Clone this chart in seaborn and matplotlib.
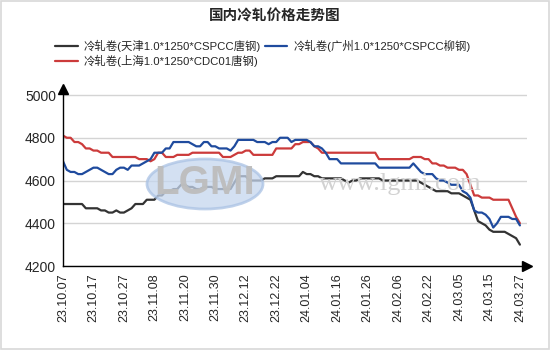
import numpy as np
import pandas as pd
import matplotlib
matplotlib.use("Agg")
import matplotlib.pyplot as plt
import seaborn as sns
from matplotlib.patches import Ellipse, Rectangle

# ---------------- data ----------------
title = "国内冷轧价格走势图"
series_names = [
    "冷轧卷(天津1.0*1250*CSPCC唐钢)",
    "冷轧卷(上海1.0*1250*CDC01唐钢)",
    "冷轧卷(广州1.0*1250*CSPCC柳钢)",
]
tick_labels = ["23.10.07", "23.10.17", "23.10.27", "23.11.08", "23.11.20", "23.11.30",
               "23.12.12", "23.12.22", "24.01.04", "24.01.16", "24.01.26", "24.02.06",
               "24.02.22", "24.03.05", "24.03.15", "24.03.27"]

tianjin = [4490, 4490, 4490, 4490, 4490, 4490, 4470, 4470, 4470, 4470,
           4460, 4460, 4450, 4450, 4460, 4450, 4450, 4460, 4470, 4490,
           4490, 4490, 4510, 4510, 4510, 4530, 4530, 4550, 4550, 4560,
           4560, 4580, 4580, 4570, 4570, 4560, 4560, 4570, 4570, 4570,
           4560, 4560, 4560, 4560, 4560, 4590, 4620, 4620, 4620, 4600,
           4600, 4600, 4600, 4610, 4610, 4610, 4620, 4620, 4620, 4620,
           4620, 4620, 4620, 4640, 4630, 4630, 4620, 4620, 4610, 4610,
           4610, 4610, 4610, 4610, 4600, 4590, 4600, 4600, 4610, 4610,
           4610, 4610, 4610, 4610, 4600, 4600, 4600, 4600, 4600, 4600,
           4600, 4600, 4600, 4600, 4590, 4580, 4570, 4560, 4550, 4550,
           4550, 4550, 4540, 4540, 4540, 4530, 4520, 4510, 4460, 4410,
           4400, 4390, 4370, 4360, 4360, 4360, 4360, 4350, 4340, 4330,
           4300]

shanghai = [4810, 4800, 4800, 4780, 4780, 4770, 4750, 4750, 4740, 4740,
            4730, 4730, 4730, 4710, 4710, 4710, 4710, 4710, 4710, 4710,
            4700, 4700, 4700, 4690, 4700, 4730, 4730, 4710, 4710, 4710,
            4720, 4720, 4720, 4720, 4730, 4730, 4730, 4730, 4730, 4730,
            4730, 4730, 4710, 4710, 4710, 4720, 4730, 4730, 4740, 4740,
            4720, 4720, 4720, 4720, 4720, 4720, 4750, 4750, 4750, 4750,
            4750, 4770, 4770, 4780, 4780, 4780, 4760, 4750, 4730, 4730,
            4730, 4730, 4730, 4730, 4730, 4730, 4730, 4730, 4730, 4730,
            4730, 4730, 4730, 4700, 4700, 4700, 4700, 4700, 4700, 4700,
            4700, 4700, 4710, 4710, 4710, 4700, 4700, 4680, 4680, 4670,
            4670, 4660, 4660, 4660, 4650, 4650, 4630, 4580, 4530, 4530,
            4520, 4520, 4520, 4510, 4510, 4510, 4510, 4510, 4470, 4430,
            4400]

guangzhou = [4690, 4650, 4640, 4640, 4630, 4630, 4640, 4650, 4660, 4660,
             4650, 4640, 4630, 4630, 4650, 4660, 4660, 4650, 4670, 4670,
             4670, 4680, 4690, 4700, 4730, 4730, 4730, 4750, 4750, 4780,
             4780, 4780, 4780, 4780, 4770, 4760, 4760, 4780, 4780, 4760,
             4760, 4750, 4750, 4750, 4740, 4760, 4790, 4790, 4790, 4790,
             4790, 4780, 4780, 4780, 4770, 4780, 4780, 4800, 4800, 4800,
             4780, 4790, 4790, 4790, 4790, 4780, 4760, 4760, 4750, 4730,
             4700, 4700, 4700, 4680, 4680, 4680, 4680, 4680, 4680, 4680,
             4680, 4680, 4680, 4660, 4660, 4660, 4660, 4660, 4660, 4660,
             4660, 4660, 4680, 4660, 4640, 4630, 4630, 4630, 4610, 4600,
             4600, 4590, 4580, 4580, 4580, 4550, 4540, 4520, 4460, 4450,
             4450, 4440, 4420, 4380, 4400, 4430, 4430, 4430, 4420, 4420,
             4390]

colors = ["#333333", "#cc3b3b", "#1f4b9e"]

# ---------------- frame ----------------
rows = []
for name, vals in zip(series_names, [tianjin, shanghai, guangzhou]):
    for i, v in enumerate(vals):
        rows.append({"idx": i, "price": v, "series": name})
df = pd.DataFrame(rows)

sns.set_style("white")
plt.rcParams["font.family"] = ["Liberation Sans", "Noto Sans CJK SC", "DejaVu Sans"]

fig = plt.figure(figsize=(5.5, 3.5), dpi=100)
W, H = 550, 350
ax = fig.add_axes([63 / W, 1 - 266 / H, (527 - 63) / W, (266 - 89) / H])

# watermark
fig.patches.append(Ellipse((205 / W, 1 - 184 / H), 116 / W, 50 / H, transform=fig.transFigure,
                           facecolor="#c5d6ee", edgecolor="#aac2e4", linewidth=2,
                           alpha=0.75, zorder=0))
fig.text(205 / W, 1 - 183 / H, "LGMI", ha="center", va="center", fontsize=29,
         fontweight="bold", color="#bdbdbd", alpha=0.95, zorder=0)
fig.text(400 / W, 1 - 184 / H, "www.lgmi.com", ha="center", va="center", fontsize=19,
         family="Liberation Serif", color="#d2d2d2", zorder=0)
ax.set_facecolor("none")

sns.lineplot(data=df, x="idx", y="price", hue="series", hue_order=series_names,
             palette=colors, linewidth=1.6, ax=ax, legend=True, zorder=3)

handles, labels = ax.get_legend_handles_labels()
ax.get_legend().remove()
fig.legend(handles, labels, ncol=2, loc="upper left", bbox_to_anchor=(55 / W, 1 - 40 / H),
           frameon=False, fontsize=8.2, handlelength=2.0, handletextpad=0.5,
           columnspacing=0.35, labelspacing=0.25, borderpad=0, borderaxespad=0)

fig.text(0.5, 1 - 17 / H, title, ha="center", va="center", fontsize=10.5, fontweight="bold")

ax.set_xlim(0, (527 - 62.7) / 3.81)
ax.set_ylim(4200, 5000 + 6 * 4.687)
ax.set_yticks([4200, 4400, 4600, 4800, 5000])
ax.set_yticklabels(["4200", "4400", "4600", "4800", "5000"], fontsize=10)
ax.set_xticks(np.arange(len(tick_labels)) * 8)
ax.set_xticklabels(tick_labels, rotation=90, fontsize=9)
ax.set_xlabel("")
ax.set_ylabel("")
ax.yaxis.grid(True, color="#d4d4d4", linewidth=1)
ax.set_axisbelow(True)
for s in ["top", "right"]:
    ax.spines[s].set_visible(False)
for s in ["left", "bottom"]:
    ax.spines[s].set_color("black")
    ax.spines[s].set_linewidth(1)
    ax.spines[s].set_zorder(4)
ax.tick_params(axis="both", length=3, width=0.8, color="#555555", pad=2, direction="out")

# axis arrows
ax.plot(0, 1, marker="^", color="black", markersize=7, transform=ax.transAxes, clip_on=False)
ax.plot(1, 0, marker=">", color="black", markersize=7, transform=ax.transAxes, clip_on=False)

# outer border
fig.patches.append(Rectangle((0.001, 0.002), 0.997, 0.995, transform=fig.transFigure,
                             fill=False, edgecolor="#d8d8d8", linewidth=1.2))

fig.savefig("out.png", dpi=100)
